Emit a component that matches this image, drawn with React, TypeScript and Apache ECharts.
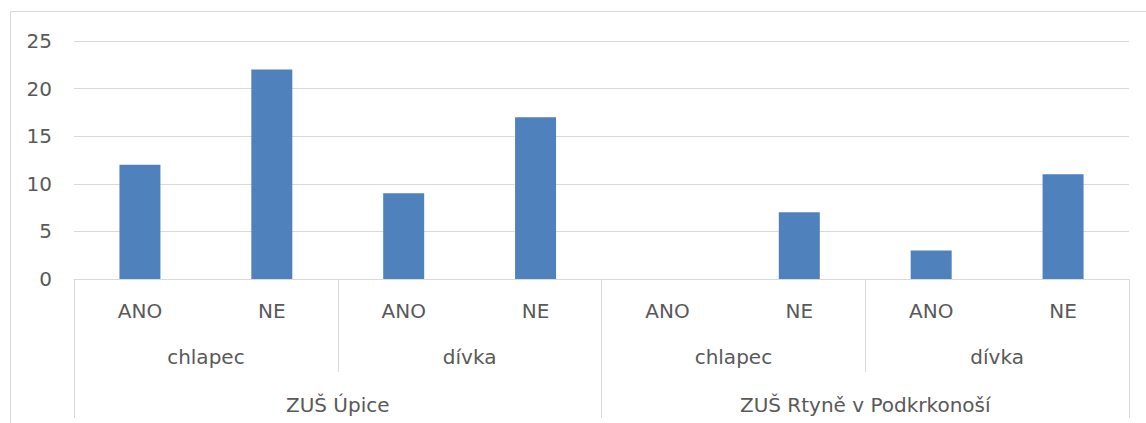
import React, { useEffect, useRef } from "react";
import * as echarts from "echarts";

const answers = ["ANO", "NE", "ANO", "NE", "ANO", "NE", "ANO", "NE"];
const genders = ["chlapec", "dívka", "chlapec", "dívka"];
const schools = ["ZUŠ Úpice", "ZUŠ Rtyně v Podkrkonoší"];
const values = [12, 22, 9, 17, 0, 7, 3, 11];

const FONT = "DejaVu Sans";
const FS = 20;
const TXT = "#595959";
const LINE = "#d9d9d9";

export default function App() {
  const ref = useRef<HTMLDivElement>(null);
  useEffect(() => {
    if (!ref.current) return;
    const chart = echarts.init(ref.current, undefined, { renderer: "svg" });
    chart.setOption({
      animation: false,
      backgroundColor: "#ffffff",
      textStyle: { fontFamily: FONT },
      graphic: [
        {
          type: "rect",
          shape: { x: 10.5, y: 11.5, width: 1200, height: 500 },
          style: { fill: "none", stroke: LINE, lineWidth: 1 },
          silent: true,
        },
      ],
      grid: { left: 74, right: 17, top: 41, bottom: 144 },
      xAxis: [
        {
          type: "category",
          data: answers,
          position: "bottom",
          axisLine: { show: true, lineStyle: { color: LINE } },
          axisTick: { show: false },
          axisLabel: { interval: 0, margin: 22, color: TXT, fontSize: FS, fontFamily: FONT },
        },
        {
          type: "category",
          data: genders,
          position: "bottom",
          axisLine: { show: false },
          axisTick: { show: true, interval: 0, length: 93, lineStyle: { color: LINE } },
          axisLabel: { interval: 0, margin: 68, color: TXT, fontSize: FS, fontFamily: FONT },
        },
        {
          type: "category",
          data: schools,
          position: "bottom",
          axisLine: { show: false },
          axisTick: { show: true, interval: 0, length: 139, lineStyle: { color: LINE } },
          axisLabel: { interval: 0, margin: 116, color: TXT, fontSize: FS, fontFamily: FONT },
        },
      ],
      yAxis: {
        type: "value",
        min: 0,
        max: 25,
        interval: 5,
        axisLine: { show: false },
        axisTick: { show: false },
        splitLine: { lineStyle: { color: LINE, width: 1 } },
        axisLabel: { margin: 22, color: TXT, fontSize: FS, fontFamily: FONT },
      },
      series: [
        {
          type: "bar",
          xAxisIndex: 0,
          data: values,
          barWidth: 41,
          itemStyle: { color: "#4f81bd" },
        },
      ],
    });
    return () => chart.dispose();
  }, []);
  return (
    <div
      ref={ref}
      style={{ position: "fixed", left: 0, top: 0, width: 1146, height: 423 }}
    />
  );
}
